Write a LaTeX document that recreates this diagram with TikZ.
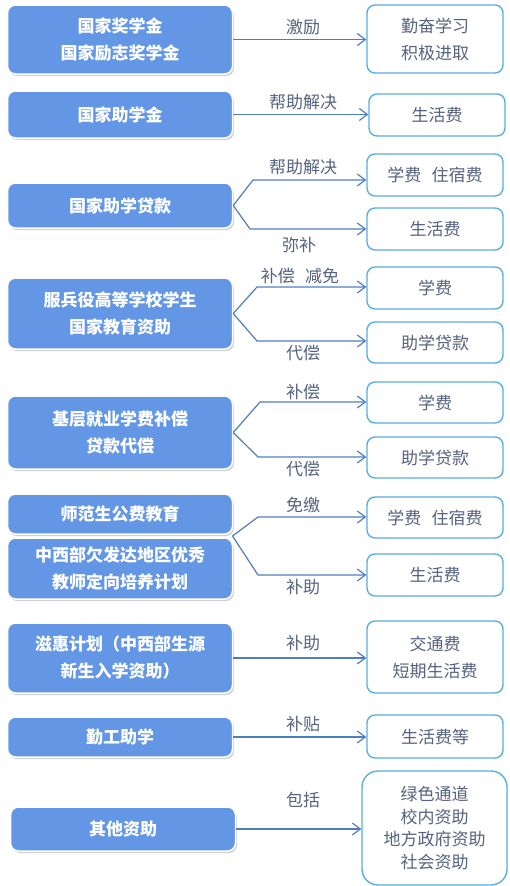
\documentclass[tikz,border=0pt]{standalone}
\usepackage{fontspec}
\setmainfont{Noto Sans CJK SC}
\usetikzlibrary{shadows,arrows.meta}
\definecolor{lfill}{HTML}{6397E5}
\definecolor{rline}{HTML}{5AAEE2}
\definecolor{arr}{HTML}{4F7EC0}
\definecolor{txt}{HTML}{56627F}
\begin{document}
\begin{tikzpicture}[x=1pt,y=-1pt,
 lbox/.style={draw=white, line width=1.5pt, fill=lfill, rounded corners=8pt, text=white,
   font=\bfseries\fontsize{17}{27}\selectfont, align=center, inner sep=0pt, minimum width=225pt,
   drop shadow={shadow xshift=1.5pt,shadow yshift=-2pt,fill=black!35,opacity=0.5}},
 rbox/.style={draw=rline, line width=1.4pt, fill=white, rounded corners=8pt, text=txt,
   font=\fontsize{17}{27}\selectfont, align=center, inner sep=0pt, minimum width=136pt},
 conn/.style={draw=arr, line width=1.2pt, -{Straight Barb[length=8pt,width=12pt]}},
 lab/.style={text=txt, font=\fontsize{17}{20}\selectfont, inner sep=0pt}
]
\useasboundingbox (0,0) rectangle (509,886);
\fill[white] (0,0) rectangle (509,886);

% left boxes
\node[lbox, minimum height=69pt] (l1) at (120,39.5) {国家奖学金\\国家励志奖学金};
\node[lbox, minimum height=47pt] (l2) at (120,114.5) {国家助学金};
\node[lbox, minimum height=45pt] (l3) at (120,205.5) {国家助学贷款};
\node[lbox, minimum height=71pt] (l4) at (120,313.5) {服兵役高等学校学生\\国家教育资助};
\node[lbox, minimum height=73pt] (l5) at (120,432.5) {基层就业学费补偿\\贷款代偿};
\node[lbox, minimum height=40pt] (l6a) at (120,514) {师范生公费教育};
\node[lbox, minimum height=61pt] (l6b) at (120,568.5) {中西部欠发达地区优秀\\教师定向培养计划};
\node[lbox, minimum height=70pt] (l7) at (120,658) {滋惠计划（中西部生源\\新生入学资助）};
\node[lbox, minimum height=40pt] (l8) at (120,737) {勤工助学};
\node[lbox, minimum height=44pt] (l9) at (123,829) {其他资助};

% right boxes
\node[rbox, minimum height=68pt] (r1) at (435,39) {勤奋学习\\积极进取};
\node[rbox, minimum height=42pt] (r2) at (437,115) {生活费};
\node[rbox, minimum height=42pt] (r3a) at (435,175) {学费\hspace{0.6em}住宿费};
\node[rbox, minimum height=42pt] (r3b) at (435,229) {生活费};
\node[rbox, minimum height=42pt] (r4a) at (435,288) {学费};
\node[rbox, minimum height=41pt] (r4b) at (435,342.5) {助学贷款};
\node[rbox, minimum height=41pt] (r5a) at (435,402.5) {学费};
\node[rbox, minimum height=41pt] (r5b) at (435,457.5) {助学贷款};
\node[rbox, minimum height=41pt] (r6a) at (435,517.5) {学费\hspace{0.6em}住宿费};
\node[rbox, minimum height=42pt] (r6b) at (435,575) {生活费};
\node[rbox, minimum height=72pt] (r7) at (435,657) {交通费\\短期生活费};
\node[rbox, minimum height=43pt] (r8) at (435,736.5) {生活费等};
\node[rbox, minimum height=114pt, minimum width=145pt, rounded corners=16pt,
  font=\fontsize{17}{22.5}\selectfont] (r9) at (434.5,828) {绿色通道\\校内资助\\地方政府资助\\社会资助};

% labels
\node[lab] (t1) at (303,27) {激励};
\node[lab] (t2) at (303,102) {帮助解决};
\node[lab] (t3a) at (303,167) {帮助解决};
\node[lab] (t3b) at (299,245) {弥补};
\node[lab] (t4a) at (300,276) {补偿\hspace{0.6em}减免};
\node[lab] (t4b) at (303,353) {代偿};
\node[lab] (t5a) at (303,392) {补偿};
\node[lab] (t5b) at (303,469) {代偿};
\node[lab] (t6a) at (303,505) {免缴};
\node[lab] (t6b) at (303,587) {补助};
\node[lab] (t7) at (303,643) {补助};
\node[lab] (t8) at (303,724) {补贴};
\node[lab] (t9) at (303,800) {包括};

% branch points
\coordinate (b3u) at (253,180); \coordinate (b3d) at (250,229);
\coordinate (b4u) at (257,287); \coordinate (b4d) at (257,341);
\coordinate (b5u) at (260,402); \coordinate (b5d) at (258,457);
\coordinate (s6) at (232.5,536);
\coordinate (b6u) at (258,517); \coordinate (b6d) at (258,575);

% connectors
\draw[conn] (l1.east) -- (l1.east -| r1.west);
\draw[conn] (l2.east) -- (l2.east -| r2.west);
\draw[conn] (l3.east) -- (b3u) -- (b3u -| r3a.west);
\draw[conn] (l3.east) -- (b3d) -- (b3d -| r3b.west);
\draw[conn] (l4.east) -- (b4u) -- (b4u -| r4a.west);
\draw[conn] (l4.east) -- (b4d) -- (b4d -| r4b.west);
\draw[conn] (l5.east) -- (b5u) -- (b5u -| r5a.west);
\draw[conn] (l5.east) -- (b5d) -- (b5d -| r5b.west);
\draw[conn] (s6) -- (b6u) -- (b6u -| r6a.west);
\draw[conn] (s6) -- (b6d) -- (b6d -| r6b.west);
\draw[conn] (l7.east) -- (l7.east -| r7.west);
\draw[conn] (l8.east) -- (l8.east -| r8.west);
\draw[conn] (l9.east) -- (l9.east -| r9.west);
\end{tikzpicture}
\end{document}
